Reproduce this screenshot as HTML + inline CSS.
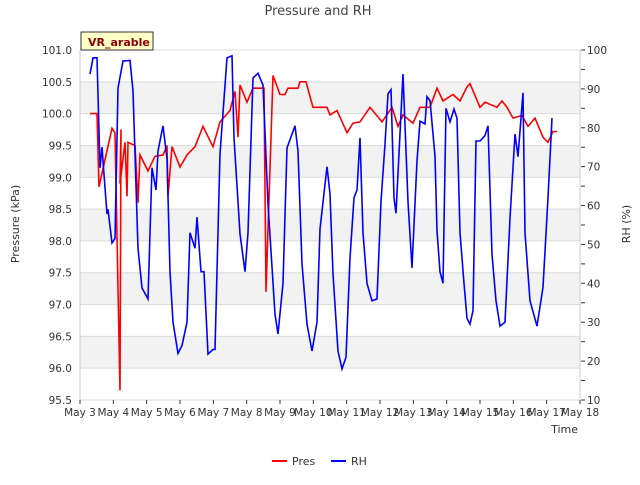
<!DOCTYPE html>
<html><head><meta charset="utf-8"><style>
body{margin:0;background:#fff;font-family:"Liberation Sans","DejaVu Sans",sans-serif}
svg text{font-family:"DejaVu Sans","Liberation Sans",sans-serif;fill:#333}
</style></head><body>
<svg id="chart" width="640" height="480" viewBox="0 0 640 480" xmlns="http://www.w3.org/2000/svg">
<text x="318" y="15" text-anchor="middle" font-size="13" style="fill:#444">Pressure and RH</text>
<g id="bands"></g><g id="grid"></g>
<g id="axes"></g>
<path id="pres" fill="none" stroke="#ff0000" stroke-width="1.6"/>
<path id="rh" fill="none" stroke="#0000ff" stroke-width="1.6"/>
<g>
<rect x="81" y="32" width="72" height="18" fill="#ffffc8" stroke="#333" stroke-width="1"/>
<text x="88" y="46" font-size="11" font-weight="bold" style="fill:#8b0000">VR_arable</text></g>
<text transform="translate(19,224) rotate(-90)" text-anchor="middle" font-size="11">Pressure (kPa)</text>
<text transform="translate(630,224) rotate(-90)" text-anchor="middle" font-size="11">RH (%)</text>
<text x="578" y="433" text-anchor="end" font-size="11">Time</text>
<g><line x1="272" y1="461" x2="287" y2="461" stroke="#ff0000" stroke-width="2"/><text x="292" y="465" font-size="11">Pres</text></g>
<g><line x1="331" y1="461" x2="346" y2="461" stroke="#0000ff" stroke-width="2"/><text x="351" y="465" font-size="11">RH</text></g>
</svg>
<script>
const xTickLabels=["May 3","May 4","May 5","May 6","May 7","May 8","May 9","May 10","May 11","May 12","May 13","May 14","May 15","May 16","May 17","May 18"];
const presTicks=[95.5,96.0,96.5,97.0,97.5,98.0,98.5,99.0,99.5,100.0,100.5,101.0];
const rhTicks=[10,20,30,40,50,60,70,80,90,100];
const presT=[0.3,0.51,0.57,0.96,1.05,1.2,1.23,1.2,1.35,1.41,1.44,1.65,1.74,1.8,2.04,2.25,2.49,2.61,2.64,2.76,3.0,3.21,3.45,3.69,3.99,4.2,4.5,4.65,4.74,4.8,5.01,5.19,5.52,5.58,5.79,6.0,6.15,6.24,6.54,6.6,6.78,6.99,7.11,7.41,7.5,7.71,8.01,8.19,8.4,8.7,9.06,9.36,9.54,9.69,9.99,10.2,10.5,10.71,10.89,11.19,11.4,11.61,11.7,12.0,12.15,12.51,12.66,12.81,12.99,13.26,13.44,13.65,13.89,14.04,14.19,14.31];
const presV=[100.0,100.0,98.85,99.77,99.7,95.65,99.75,98.9,99.55,98.7,99.55,99.5,98.6,99.35,99.1,99.33,99.35,99.5,98.7,99.48,99.16,99.35,99.48,99.8,99.48,99.87,100.05,100.35,99.63,100.45,100.18,100.4,100.4,97.2,100.6,100.3,100.3,100.4,100.4,100.5,100.5,100.1,100.1,100.1,99.98,100.05,99.7,99.85,99.87,100.1,99.87,100.1,99.8,99.98,99.85,100.1,100.1,100.4,100.2,100.3,100.2,100.42,100.47,100.1,100.18,100.1,100.2,100.1,99.93,99.97,99.8,99.93,99.63,99.55,99.72,99.72];
const rhT=[0.3,0.39,0.51,0.6,0.66,0.72,0.81,0.84,0.96,1.05,1.14,1.29,1.5,1.59,1.74,1.86,2.04,2.16,2.28,2.34,2.49,2.61,2.7,2.79,2.94,3.06,3.21,3.3,3.45,3.51,3.63,3.72,3.84,3.99,4.05,4.2,4.41,4.56,4.62,4.8,4.95,5.04,5.19,5.34,5.49,5.64,5.85,5.94,6.09,6.21,6.45,6.54,6.66,6.81,6.96,7.11,7.2,7.41,7.5,7.59,7.74,7.86,7.98,8.1,8.22,8.31,8.4,8.49,8.61,8.76,8.91,9.03,9.15,9.24,9.33,9.42,9.48,9.69,9.84,9.96,10.11,10.2,10.35,10.41,10.5,10.65,10.71,10.8,10.89,10.98,11.1,11.22,11.31,11.4,11.52,11.61,11.7,11.79,11.88,12.0,12.15,12.24,12.36,12.48,12.6,12.75,12.9,13.05,13.14,13.29,13.35,13.5,13.71,13.89,14.04,14.16,14.31];
const rhV=[93.8,98,98,69.7,75,68,57.8,59,50.4,51.5,90.2,97.2,97.3,89.5,49,38.8,36,69.7,64,74,80.5,72,43,30,22,24,30,53,49,57,43,43,21.8,23,23,73.2,98,98.5,77.4,52.7,43,53,92.8,94,91,60.4,32,27,40,74.8,80.5,74,45,29.5,22.6,30,54,70,63,42.4,22.6,18,21,46.5,62,64,77.4,53,40,35.5,36,61,75.8,88.7,89.8,62,58,93.8,61,44,71.5,81.7,81,88,87,72.7,53.5,43,40,85,81.5,84.8,82.5,53,40,31,29.5,33,76.6,76.6,78,80.5,47.5,35.5,29,30,56.8,78.4,72.6,89,53,35.5,29,39,62,82.5];
const X0=80,X1=580,Y0=400,Y1=50;
const xs=t=>X0+(X1-X0)*t/15;
const yp=v=>Y0-(v-95.5)/(101-95.5)*(Y0-Y1);
const yr=v=>Y0-(v-10)/(100-10)*(Y0-Y1);
const NS="http://www.w3.org/2000/svg";
function mk(tag,attrs,parent){const e=document.createElementNS(NS,tag);for(const k in attrs)e.setAttribute(k,attrs[k]);parent.appendChild(e);return e;}
const bands=document.getElementById('bands'),grid=document.getElementById('grid'),axes=document.getElementById('axes');
for(let i=0;i<presTicks.length-1;i++){
  if(i%2===1){const b=mk('rect',{x:X0,y:yp(presTicks[i+1]),width:X1-X0,height:yp(presTicks[i])-yp(presTicks[i+1]),fill:'#f2f2f2'},bands);
  
  }
}
presTicks.forEach(v=>{const l=mk('line',{x1:X0,x2:X1,y1:yp(v),y2:yp(v),stroke:'#dcdcdc'},grid);
  
  
  const t=mk('text',{x:72,y:yp(v)+4,'text-anchor':'end','font-size':'10.5'},axes);t.textContent=v.toFixed(1);
  
  });
mk('line',{x1:X0,x2:X0,y1:Y1,y2:Y0,stroke:'#ccc'},grid);
mk('line',{x1:X1,x2:X1,y1:Y1,y2:Y0,stroke:'#ccc'},grid);
rhTicks.forEach(v=>{const t=mk('text',{x:587,y:yr(v)+4,'font-size':'10.5'},axes);t.textContent=v;
  
  
  mk('line',{x1:X1+1,x2:X1+5,y1:yr(v),y2:yr(v),stroke:'#333'},axes);
  if(v<100)mk('line',{x1:X1+1,x2:X1+5,y1:yr(v+5),y2:yr(v+5),stroke:'#333'},axes);});
xTickLabels.forEach((s,i)=>{const t=mk('text',{x:xs(i),y:416,'text-anchor':'middle','font-size':'10.5'},axes);t.textContent=s;
  
  
  mk('line',{x1:xs(i),x2:xs(i),y1:Y0,y2:Y0+4,stroke:'#333'},axes);});
document.getElementById('pres').setAttribute('d',presT.map((t,i)=>(i?'L':'M')+xs(t).toFixed(1)+','+yp(presV[i]).toFixed(1)).join(''));
document.getElementById('rh').setAttribute('d',rhT.map((t,i)=>(i?'L':'M')+xs(t).toFixed(1)+','+yr(rhV[i]).toFixed(1)).join(''));
</script>
</body></html>
